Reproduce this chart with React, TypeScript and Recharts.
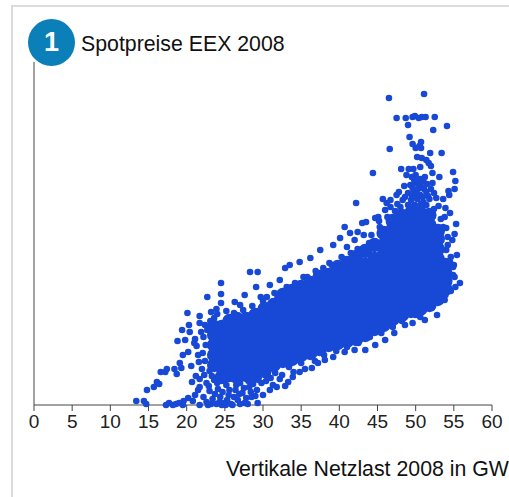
import React from 'react';
import { ScatterChart, Scatter, XAxis, YAxis } from 'recharts';

type P = [number, number];
const xTicks = [0, 5, 10, 15, 20, 25, 30, 35, 40, 45, 50, 55, 60];
const chartTitle = 'Spotpreise EEX 2008';
const xTitle = 'Vertikale Netzlast 2008 in GW';

// Load (GW) and price (relative height units)
const peakPoints: P[] = [
  [46.5,307],[51.1,311],[47.5,287],[48.7,287],[49.6,288],[49.9,289],[50.4,287],[50.8,288],[51.3,288],[52.5,288],
  [49.0,280],[54.1,279],[52.3,275],[49.2,268],[49.6,261],[50.7,263],[50.5,259],[50.0,257],[50.7,257],[46.6,256],
  [51.9,252],[53.4,252],[50.2,248],[50.8,247],[51.4,245],[51.7,242],[52.0,239],[48.1,236],[49.1,236],[49.7,236],
  [50.6,238],[44.4,232],[54.9,233],[52.2,232],[48.8,230],[53.1,228],[55.2,224],[55.1,216],[54.3,214],[54.4,210],
  [52.7,207],[53.6,206],[42.2,202],[45.7,206],[46.2,202],[46.7,198],[46.7,205],[47.5,210],[47.8,213],[48.5,219],
  [40.7,178],[43.0,182],[43.5,183],[45.1,188],[41.4,172],[42.4,173],[55.3,181],[55.1,171],[54.5,192],[53.8,188],
  [53.9,197],[53.0,199],[54.0,177],[47.6,201],[48.3,205],
  [49.5,228],[50.0,230],[50.6,226],[51.2,228],[49.3,220],[50.0,222],[50.8,218],[51.5,221],[49.0,212],[49.8,214],
  [50.6,210],[51.4,213],[52.2,222],[49.4,205],[50.2,206],[51.0,203],[51.8,206],[48.6,208],[52.4,212],
  [49.8,225],[50.4,221],[51.0,224],[49.6,217],[50.3,216],[51.1,216],[49.5,209],[50.2,211],[50.9,208],[51.6,209],
  [49.9,200],[50.7,201],[51.4,200],[52.0,216],[49.2,199],
  [55.8,122],[54.9,130],[55.4,150],[54.8,165],[54.5,143],[53.8,105],[55.2,118],[54.3,125],[55.0,140],[54.0,155],
];
const lowLoadPoints: P[] = [
  [24.5,122],[29.1,118],[22.7,108],[24.5,111],[29.7,108],[26.3,103],[24.5,102],[23.9,96],[23.2,93],[20.1,92],
  [21.7,89],[23.6,87],[20.3,80],[21.7,82],[22.4,80],[19.4,75],[20.4,73],[21.9,73],[18.8,64],[19.8,65],
  [21.1,66],[21.0,62],[21.3,59],[19.5,50],[20.2,53],[21.5,50],[19.1,42],[19.3,37],[18.4,36],[17.4,36],
  [16.6,33],[17.2,33],[18.7,31],[20.6,39],[21.6,43],[21.2,29],[21.7,26],[20.7,23],[16.1,23],[16.4,21],
  [15.7,18],[14.8,15],[13.4,4],[14.4,4],[14.7,1],[17.3,0],[17.7,2],[18.2,0],[19.6,4],[19.5,0],
  [20.2,7],[20.8,4],[21.5,15],[21.7,18],[21.1,10],[21.7,0],[18.6,1],[19.0,2],[22.2,8],[22.6,3],
  [22.3,30],[22.6,22],[23.0,14],[23.4,6],[23.6,25],[23.9,1],[24.1,16],[24.4,8],[24.6,28],[24.9,2],
  [25.2,20],[25.5,10],[25.8,1],[26.1,26],[26.4,15],[26.7,5],[27.0,22],[27.3,12],[27.6,2],[27.9,27],
  [28.2,18],[28.5,8],[28.8,28],[29.2,15],[29.3,2],[29.8,22],[30.0,10],[31.3,20],[31.8,18],[32.9,19],
  [33.9,28],[31.0,27],[32.2,26],[30.6,30],[26.8,30],[25.0,32],[23.0,34],
  [22.0,36],[22.4,44],[22.1,52],[22.5,60],[22.2,68],[22.7,75],[23.1,84],
  [22.9,19],[23.3,29],[23.7,11],[24.0,22],[24.3,3],[24.7,13],[25.0,24],[25.3,5],[25.6,15],[25.9,27],
  [26.2,8],[26.5,20],[26.9,11],[27.2,27],[27.5,17],[27.8,7],[28.1,24],[28.4,13],[28.7,21],[29.0,9],
  [26.0,0],[25.1,0],[27.0,1],[28.0,1],[22.8,0],[23.2,1],[24.6,0],[29.4,25],[30.4,24],[30.9,15],
  [32.5,30],[33.3,23],[34.0,33],[31.6,32],
];
const upperEdgePoints: P[] = [
  [28.3,133],[29.3,133],[33.5,140],[37.5,155],[39.2,160],[34.8,143],[32.9,137],[30.9,120],[27.6,110],[32.2,125],
  [40.1,167],[42.0,165],[44.7,187],[46.0,195],[36.2,147],[34.8,33],[36.4,37],[38.1,45],[40.7,53],[43.4,55],
  [46.0,65],[48.6,80],[50.6,88],[52.8,90],[51.2,85],[35.5,36],[37.2,42],[39.2,48],[42.0,55],[44.7,60],
  [47.2,72],[49.6,82],[38.7,142],[41.0,158],[43.2,170],[46.9,182],[35.8,128],[31.5,112],[27.0,100],
  [24.0,91],[25.2,94],[26.2,92],[27.4,95],[28.6,99],[30.0,104],[30.5,108],[31.9,108],[33.1,118],[34.2,122],
  [35.3,128],[36.9,134],[37.9,137],[39.0,140],[40.3,148],[41.5,152],[42.4,156],[43.9,162],[44.2,170],[45.3,178],
  [45.2,184],[46.3,188],[47.3,194],[48.0,198],[49.0,200],[50.9,199],[52.4,196],[53.3,186],[53.6,178],[54.2,168],
  [54.2,160],[54.6,148],[54.9,138],[55.1,128],[54.6,114],[53.9,110],[53.0,104],[52.1,97],[50.0,90],[48.2,84],
  [47.0,78],[45.5,72],[44.0,68],[42.5,62],[41.0,58],[39.6,54],[38.0,50],[36.8,44],[35.0,42],[33.4,38],
];
const denseCore: P[] = [
  [23.6,40],[23.6,50],[23.6,60],[23.6,70],[23.6,78],
  [24.6,28],[24.6,38],[24.6,48],[24.6,58],[24.6,68],[24.6,78],
  [25.6,30],[25.6,36],[25.6,46],[25.6,56],[25.6,66],[25.6,76],[25.6,84],
  [26.6,28],[26.6,38],[26.6,48],[26.6,58],[26.6,68],[26.6,78],[26.6,86],
  [27.8,30],[27.8,38],[27.8,48],[27.8,58],[27.8,68],[27.8,78],[27.8,86],
  [29,30],[29,40],[29,50],[29,60],[29,70],[29,80],[29,90],
  [30.2,34],[30.2,40],[30.2,50],[30.2,60],[30.2,70],[30.2,80],[30.2,90],[30.2,96],
  [31.4,40],[31.4,50],[31.4,60],[31.4,70],[31.4,80],[31.4,90],[31.4,100],
  [32.6,44],[32.6,54],[32.6,64],[32.6,74],[32.6,84],[32.6,94],[32.6,104],[32.6,110],
  [33.8,46],[33.8,56],[33.8,66],[33.8,76],[33.8,86],[33.8,96],[33.8,106],[33.8,114],
  [35,50],[35,60],[35,70],[35,80],[35,90],[35,100],[35,110],[35,118],
  [36.2,52],[36.2,62],[36.2,72],[36.2,82],[36.2,92],[36.2,102],[36.2,112],[36.2,122],
  [37.4,56],[37.4,66],[37.4,76],[37.4,86],[37.4,96],[37.4,106],[37.4,116],[37.4,128],
  [38.6,60],[38.6,70],[38.6,80],[38.6,90],[38.6,100],[38.6,110],[38.6,120],[38.6,130],
  [39.8,62],[39.8,72],[39.8,82],[39.8,92],[39.8,102],[39.8,112],[39.8,122],[39.8,132],[39.8,138],
  [41,64],[41,74],[41,84],[41,94],[41,104],[41,114],[41,124],[41,134],[41,142],
  [42.2,66],[42.2,76],[42.2,86],[42.2,96],[42.2,106],[42.2,116],[42.2,126],[42.2,136],[42.2,148],
  [43.4,70],[43.4,80],[43.4,90],[43.4,100],[43.4,110],[43.4,120],[43.4,130],[43.4,140],[43.4,154],
  [44.6,76],[44.6,86],[44.6,96],[44.6,106],[44.6,116],[44.6,126],[44.6,136],[44.6,146],[44.6,160],
  [45.8,80],[45.8,90],[45.8,100],[45.8,110],[45.8,120],[45.8,130],[45.8,140],[45.8,150],[45.8,160],[45.8,172],
  [47,86],[47,96],[47,106],[47,116],[47,126],[47,136],[47,146],[47,156],[47,166],[47,176],[47,184],
  [48.2,90],[48.2,100],[48.2,110],[48.2,120],[48.2,130],[48.2,140],[48.2,150],[48.2,160],[48.2,170],[48.2,180],[48.2,189],
  [49.4,94],[49.4,104],[49.4,114],[49.4,124],[49.4,134],[49.4,144],[49.4,154],[49.4,164],[49.4,174],[49.4,184],[49.4,192],
  [50.6,96],[50.6,106],[50.6,116],[50.6,126],[50.6,136],[50.6,146],[50.6,156],[50.6,166],[50.6,176],[50.6,186],[50.6,192],
  [51.8,100],[51.8,110],[51.8,120],[51.8,130],[51.8,140],[51.8,150],[51.8,160],[51.8,170],[51.8,180],[51.8,190],
  [52.9,106],[52.9,116],[52.9,126],[52.9,136],[52.9,146],[52.9,156],[52.9,166],[52.9,174],
  [53.9,116],[53.9,124],[53.9,132],[53.9,140],
];

const BLUE = '#1849d6';
const smallDot = (p: any) => <circle cx={p.cx} cy={p.cy} r={3.3} fill={BLUE} />;
const coreDot = (p: any) => <circle cx={p.cx} cy={p.cy} r={7.2} fill={BLUE} />;
const toRows = (pts: P[]) => pts.map(([x, y]) => ({ x, y }));
const sans = '"Liberation Sans", Arial, sans-serif';

export default function App() {
  return (
    <div style={{ position: 'absolute', left: 0, top: 0, width: 509, height: 497, overflow: 'hidden', background: '#fff', fontFamily: sans }}>
      <div style={{ position: 'absolute', left: 11, top: 5, width: 520, height: 520, border: '2px solid #dcdcdc', boxSizing: 'border-box' }} />
      <ScatterChart width={509} height={497} margin={{ left: 33, right: 17, top: 62, bottom: 52 }} style={{ position: 'absolute', left: 0, top: 0 }}>
        <XAxis type="number" dataKey="x" domain={[0, 60]} ticks={xTicks} interval={0} height={40} allowDataOverflow
          stroke="#444" tickSize={6} tickLine={{ stroke: '#444' }} axisLine={{ stroke: '#444' }}
          tick={{ fill: '#222', fontSize: 19, fontFamily: sans }} tickMargin={4} />
        <YAxis type="number" dataKey="y" domain={[0, 343]} width={1} tick={false} tickLine={false} axisLine={{ stroke: '#444' }} />
        <Scatter data={toRows(denseCore)} shape={coreDot} isAnimationActive={false} />
        <Scatter data={toRows(peakPoints)} shape={smallDot} isAnimationActive={false} />
        <Scatter data={toRows(lowLoadPoints)} shape={smallDot} isAnimationActive={false} />
        <Scatter data={toRows(upperEdgePoints)} shape={smallDot} isAnimationActive={false} />
      </ScatterChart>
      <div style={{ position: 'absolute', left: 28, top: 19, width: 47, height: 47, borderRadius: '50%', background: '#0a7fb8', color: '#fff', fontSize: 27, fontWeight: 700, lineHeight: '47px', textAlign: 'center' }}>1</div>
      <div style={{ position: 'absolute', left: 81, top: 32, fontSize: 21.3, lineHeight: '24px', color: '#111', whiteSpace: 'nowrap' }}>{chartTitle}</div>
      <div style={{ position: 'absolute', left: 226, top: 457, fontSize: 21.3, lineHeight: '24px', color: '#111', whiteSpace: 'nowrap' }}>{xTitle}</div>
    </div>
  );
}
